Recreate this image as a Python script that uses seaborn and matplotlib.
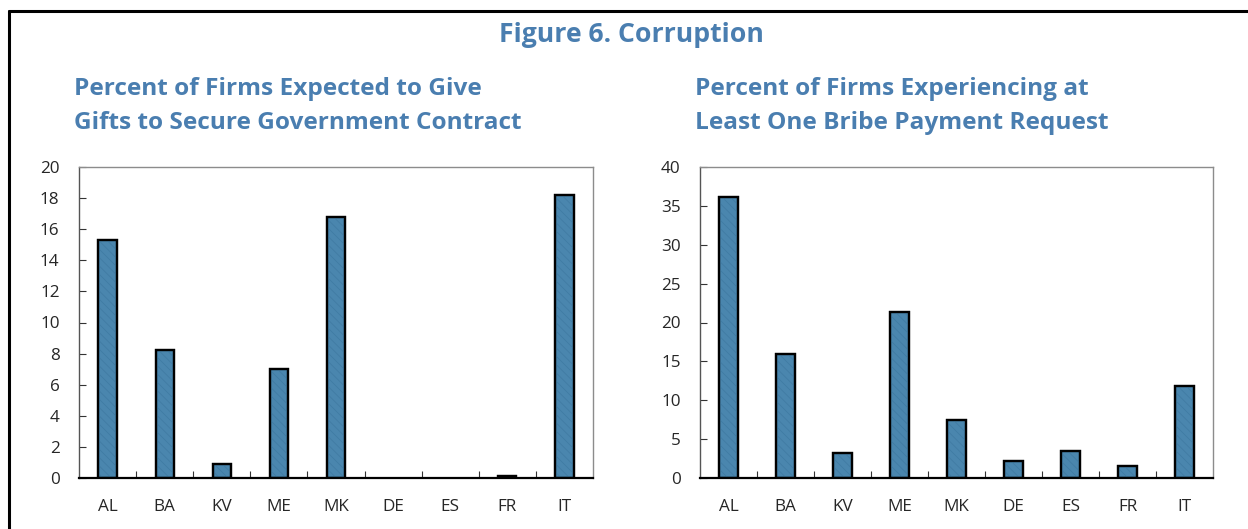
import matplotlib
matplotlib.use("Agg")
import matplotlib.pyplot as plt
import matplotlib.patches as mpatches
from matplotlib.lines import Line2D
from matplotlib.ticker import FixedLocator
import numpy as np
import pandas as pd
import seaborn as sns

# data
countries = ['AL', 'BA', 'KV', 'ME', 'MK', 'DE', 'ES', 'FR', 'IT']
gifts_pct = [15.3, 8.2, 0.9, 7.0, 16.8, 0.0, 0.0, 0.1, 18.2]
bribe_pct = [36.1, 16.0, 3.2, 21.4, 7.4, 2.2, 3.5, 1.6, 11.8]

main_title = 'Figure 6. Corruption'
left_title = 'Percent of Firms Expected to Give\nGifts to Secure Government Contract'
right_title = 'Percent of Firms Experiencing at\nLeast One Bribe Payment Request'

sns.set_style('white')
plt.rcParams['font.family'] = ['Open Sans', 'DejaVu Sans']
plt.rcParams['hatch.linewidth'] = 0.5

bar_color = '#4A86AE'
title_color = '#4A7EB0'

fig = plt.figure(figsize=(12.48, 5.29), dpi=100)
W, H = 1248, 529

# outer frame (top and left only, rest is cropped)
fig.add_artist(Line2D([9 / W, 9 / W], [0, 1 - 11 / H], color='black', lw=2.2, transform=fig.transFigure))
fig.add_artist(Line2D([9 / W, 1], [1 - 11 / H, 1 - 11 / H], color='black', lw=2.2, transform=fig.transFigure))

fig.text(631 / W, 1 - 35 / H, main_title, ha='center', va='center',
         fontsize=19.2, fontweight='bold', color=title_color)

ax_l = fig.add_axes([79 / W, 1 - 478 / H, 514 / W, 311 / H])
ax_r = fig.add_axes([700 / W, 1 - 478 / H, 513 / W, 311 / H])


def draw_panel(ax, values, ymax, ystep, title, title_x):
    df = pd.DataFrame({'country': countries, 'value': values})
    sns.barplot(data=df, x='country', y='value', ax=ax, color=bar_color,
                width=0.32, saturation=1, edgecolor='black', linewidth=1.6)
    # subtle hatch inside the bars, nothing drawn for empty bars
    for p in list(ax.patches):
        if p.get_height() == 0:
            p.set_linewidth(0)
            continue
        hp = mpatches.Rectangle(p.get_xy(), p.get_width(), p.get_height(),
                                fill=False, hatch='\\\\\\\\', edgecolor='#3F7AA2', linewidth=0)
        ax.add_patch(hp)
        ol = mpatches.Rectangle(p.get_xy(), p.get_width(), p.get_height(),
                                fill=False, edgecolor='black', linewidth=1.6)
        ax.add_patch(ol)
    ax.set_xlim(-0.5, len(countries) - 0.5)
    ax.set_ylim(0, ymax)
    ax.set_yticks(np.arange(0, ymax + 0.1, ystep))
    ax.set_xlabel('')
    ax.set_ylabel('')
    ax.xaxis.set_minor_locator(FixedLocator(np.arange(0.5, len(countries) - 1, 1)))
    ax.tick_params(axis='x', which='major', length=0, pad=15, labelsize=12.3)
    ax.tick_params(axis='x', which='minor', direction='in', length=5, width=0.8, color='#333333', bottom=True)
    ax.tick_params(axis='y', direction='in', length=5, width=0.8, color='#333333', pad=14, labelsize=12.3, left=True)
    for s in ['top', 'right']:
        ax.spines[s].set_color('#8C8C8C')
        ax.spines[s].set_linewidth(1.0)
    ax.spines['left'].set_color('#555555')
    ax.spines['left'].set_linewidth(1.0)
    ax.spines['bottom'].set_color('black')
    ax.spines['bottom'].set_linewidth(1.6)
    fig.text(title_x / W, 1 - 106 / H, title, ha='left', va='center',
             fontsize=17.6, fontweight='bold', color=title_color, linespacing=1.58)


draw_panel(ax_l, gifts_pct, 20, 2, left_title, 74)
draw_panel(ax_r, bribe_pct, 40, 5, right_title, 695)

fig.savefig('out.png', dpi=100)
